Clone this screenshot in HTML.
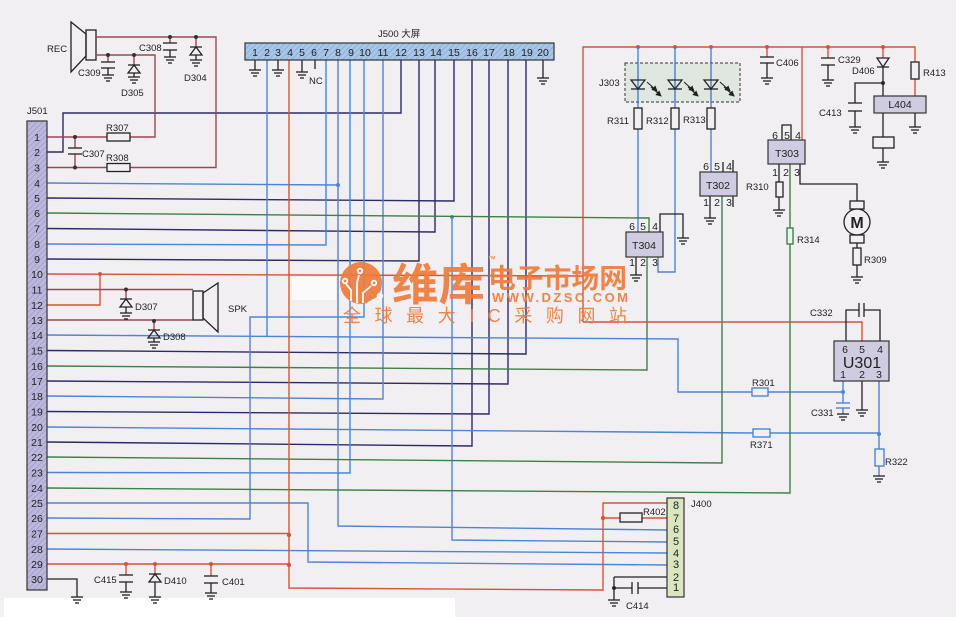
<!DOCTYPE html>
<html><head><meta charset="utf-8"><style>
html,body{margin:0;padding:0;background:#f2eff2;}
svg{display:block;}
text{font-family:"Liberation Sans","Noto Sans CJK SC",sans-serif;fill:#222;}
</style></head><body>
<svg width="956" height="617" viewBox="0 0 956 617" xmlns="http://www.w3.org/2000/svg">
<defs>
<pattern id="h1" width="4" height="4" patternUnits="userSpaceOnUse" patternTransform="rotate(45)"><rect width="4" height="4" fill="#bcb8dc"/><line x1="0" y1="0" x2="0" y2="4" stroke="#9692c2" stroke-width="1.2"/></pattern>
<pattern id="h2" width="4" height="4" patternUnits="userSpaceOnUse" patternTransform="rotate(45)"><rect width="4" height="4" fill="#a8c6e8"/><line x1="0" y1="0" x2="0" y2="4" stroke="#7ea4d0" stroke-width="1.2"/></pattern>
<marker id="ah" markerWidth="6" markerHeight="6" refX="5" refY="3" orient="auto" markerUnits="userSpaceOnUse"><path d="M0,0 L6,3 L0,6 Z" fill="#222"/></marker>
<g id="gnd" stroke="#222" stroke-width="1.3"><line x1="-6" y1="0" x2="6" y2="0"/><line x1="-4" y1="3" x2="4" y2="3"/><line x1="-2" y1="6" x2="2" y2="6"/></g>
</defs>
<rect width="956" height="617" fill="#f2eff2"/>
<rect x="4" y="598" width="451" height="19" fill="#ffffff"/>
<rect x="292" y="277" width="44" height="23" fill="#fbfafb"/>

<!-- NAVY -->
<g fill="none" stroke="#2d2a68" stroke-width="1.4">
<path d="M47,152 H63 V113 H401 V60"/>
<path d="M47,259 L419,261 V60"/>
<path d="M47,228.5 L435,232 V60"/>
<path d="M47,198 L454,201 V60"/>
<path d="M47,442 L472,446 V60"/>
<path d="M47,411.5 L489,414 V60"/>
<path d="M47,381 L508,384 V60"/>
<path d="M47,350.5 L526,354 V60"/>
</g>

<!-- BLUE -->
<g fill="none" stroke="#4d85d4" stroke-width="1.4">
<path d="M267,60 V336"/>
<path d="M47,335 L678,339 V392 H752"/>
<path d="M768,392 H843"/>
<path d="M326,60 V245 L47,244"/>
<path d="M338,60 V526 L667,530"/>
<path d="M47,183 L338,185"/>
<path d="M350,60 V473 L47,472.5"/>
<path d="M364,60 V317 H250 V519 L47,518"/>
<path d="M383,60 V399 L47,396"/>
<path d="M452,217 V540 L667,542"/>
<path d="M47,503 H308 V562 L667,565"/>
<path d="M47,549 L667,553"/>
<path d="M47,427 L753,433"/>
<path d="M770,433 H879"/>
<path d="M638,47 V108 M638,129 V232"/>
<path d="M675,47 V108 M675,129 V272 H658 V257"/>
<path d="M711,47 V108 M711,129 V172"/>
<path d="M843,381 V403 M843,408 V414"/>
<path d="M879,381 V449 M879,466 V476"/>
<rect x="752" y="388" width="16" height="8"/>
<rect x="753" y="429" width="17" height="8"/>
<rect x="875" y="449" width="9" height="17"/>
<line x1="836" y1="403" x2="850" y2="403"/><line x1="836" y1="408" x2="850" y2="408"/>
</g>
<g fill="#4d85d4"><circle cx="338" cy="185" r="2"/><circle cx="452" cy="217" r="2"/><circle cx="638" cy="47" r="2"/><circle cx="675" cy="47" r="2"/><circle cx="711" cy="47" r="2"/><circle cx="843" cy="392" r="2"/><circle cx="879" cy="434" r="2"/></g>

<!-- GREEN -->
<g fill="none" stroke="#3f8048" stroke-width="1.4">
<path d="M47,213 L649,218 V232"/>
<path d="M47,366 L647,370 V257"/>
<path d="M47,457 L722,463 V196"/>
<path d="M47,488 L790,493 V244 M790,228 V164"/>
<rect x="787" y="228" width="6" height="16"/>
</g>

<!-- RED -->
<g fill="none" stroke="#d5533a" stroke-width="1.4">
<path d="M47,274 L583,276"/>
<path d="M583,322 V47 H915 V62 M915,79 V96"/>
<path d="M583,322 H862 V341"/>
<path d="M802,47 V140"/>
<path d="M767,47 V57 M828,47 V58 M883,47 V58"/>
<path d="M47,305 H100 V274"/>
<path d="M289,60 V588 L603,590 V503 H667"/>
<path d="M603,518 H620 M642,518 H667"/>
<path d="M47,533.5 H289 M47,564 H289"/>
<path d="M126,564 V575 M155,564 V574 M211,564 V576"/>
<rect x="620" y="513" width="22" height="9" stroke="#333"/>
<rect x="911" y="62" width="8" height="17" stroke="#333"/>
</g>
<g fill="#d5533a"><circle cx="100" cy="274" r="2"/><circle cx="289" cy="535" r="2.2"/><circle cx="289" cy="565" r="2.2"/><circle cx="126" cy="564" r="2"/><circle cx="155" cy="564" r="2"/><circle cx="211" cy="564" r="2"/><circle cx="603" cy="518" r="2.2"/><circle cx="767" cy="47" r="2"/><circle cx="828" cy="47" r="2"/><circle cx="883" cy="47" r="2"/></g>

<!-- MAROON -->
<g fill="none" stroke="#9a4755" stroke-width="1.4">
<path d="M47,137 H107 M130,137 H155 V55 H97"/>
<path d="M47,167.5 H107 M130,167.5 H216 V37 H97"/>
<path d="M75,137 V148 M75,154 V167.5"/>
<path d="M47,289.5 H193 M47,320 H193"/>
<path d="M108,55 V62 M134,55 V65 M170,37 V43 M196,37 V47 M126,289.5 V299 M154,320 V330"/>
</g>
<g fill="#333"><circle cx="75" cy="137" r="2"/><circle cx="75" cy="167.5" r="2"/><circle cx="108" cy="55" r="2"/><circle cx="134" cy="55" r="2"/><circle cx="170" cy="37" r="2"/><circle cx="196" cy="37" r="2"/><circle cx="126" cy="289.5" r="2"/><circle cx="154" cy="321" r="2"/><circle cx="883" cy="83" r="2"/><circle cx="614" cy="588" r="2"/></g>

<!-- BLACK components -->
<g fill="none" stroke="#222" stroke-width="1.3">
<rect x="107" y="133" width="23" height="8"/>
<rect x="107" y="163.5" width="23" height="8"/>
<line x1="68" y1="148" x2="82" y2="148"/><line x1="68" y1="154" x2="82" y2="154"/>
<rect x="86" y="30" width="10" height="30"/>
<polygon points="86,34 71,22 71,72 86,56"/>
<line x1="101" y1="62" x2="115" y2="62"/><line x1="101" y1="68" x2="115" y2="68"/><line x1="108" y1="68" x2="108" y2="75"/>
<line x1="128" y1="65" x2="140" y2="65"/><polygon points="134,65 128,73 140,73"/><line x1="134" y1="73" x2="134" y2="77"/>
<line x1="163" y1="43" x2="177" y2="43"/><line x1="163" y1="50" x2="177" y2="50"/><line x1="170" y1="50" x2="170" y2="57"/>
<line x1="190" y1="47" x2="202" y2="47"/><polygon points="196,47 190,55 202,55"/><line x1="196" y1="55" x2="196" y2="60"/>
<rect x="193" y="291" width="10" height="29"/>
<polygon points="203,293 218,283 218,332 203,318"/>
<line x1="120" y1="299" x2="132" y2="299"/><polygon points="126,299 120,307 132,307"/><line x1="126" y1="307" x2="126" y2="313"/>
<line x1="148" y1="330" x2="160" y2="330"/><polygon points="154,330 148,338 160,338"/><line x1="154" y1="338" x2="154" y2="342"/>
<line x1="119" y1="575" x2="133" y2="575"/><line x1="119" y1="582" x2="133" y2="582"/><line x1="126" y1="582" x2="126" y2="592"/>
<line x1="149" y1="574" x2="161" y2="574"/><polygon points="155,574 149,582 161,582"/><line x1="155" y1="582" x2="155" y2="597"/>
<line x1="204" y1="576" x2="218" y2="576"/><line x1="204" y1="583" x2="218" y2="583"/><line x1="211" y1="583" x2="211" y2="593"/>
<path d="M47,579 H77 V597"/>
<path d="M255,60 V70 M278,60 V70 M302,60 V72 M315,60 V69 M543,60 V78"/>
<rect x="634" y="108" width="8" height="21"/>
<rect x="671" y="108" width="8" height="21"/>
<rect x="707" y="108" width="8" height="21"/>
<path d="M660,232 V214 H683 V238"/>
<path d="M636,257 V275"/>
<path d="M723,162 V172 M733,160 V172 M710,196 V218 M733,196 V207"/>
<path d="M782,140 V125 H791 V140"/>
<path d="M779,164 V182 M779,197 V210"/>
<rect x="776" y="182" width="7" height="15"/>
<path d="M800,164 V184 H857 V201"/>
<rect x="850" y="201" width="14" height="8"/>
<circle cx="857" cy="222" r="13" fill="#f2eff2"/>
<rect x="850" y="235" width="14" height="8"/>
<path d="M857,243 V248 M857,265 V277"/>
<rect x="853" y="248" width="8" height="17"/>
<line x1="760" y1="57" x2="774" y2="57"/><line x1="760" y1="63" x2="774" y2="63"/><line x1="767" y1="63" x2="767" y2="78"/>
<line x1="821" y1="58" x2="835" y2="58"/><line x1="821" y1="65" x2="835" y2="65"/><line x1="828" y1="65" x2="828" y2="80"/>
<polygon points="877,58 889,58 883,67"/><line x1="877" y1="67" x2="889" y2="67"/>
<path d="M883,67 V96 M883,83 H855 V103 M855,111 V127"/>
<line x1="848" y1="103" x2="862" y2="103"/><line x1="848" y1="111" x2="862" y2="111"/>
<path d="M883,113 V137 M883,148 V162 M915,113 V127"/>
<rect x="873" y="137" width="21" height="11"/>
<path d="M846,341 V310 H859 M864,310 H880 V341"/>
<line x1="859" y1="303" x2="859" y2="317"/><line x1="864" y1="303" x2="864" y2="317"/>
<path d="M862,381 V410"/>
<path d="M614,577 H667 M614,577 V600 M614,588 H632 M638,588 H667"/>
<line x1="632" y1="582" x2="632" y2="594"/><line x1="638" y1="582" x2="638" y2="594"/>
</g>
<rect x="625" y="63" width="115" height="39" fill="#d9e4d9" fill-opacity="0.7" stroke="#333" stroke-width="1" stroke-dasharray="3,2"/>
<g stroke="#4d85d4" stroke-width="1.4"><line x1="638" y1="63" x2="638" y2="102"/><line x1="675" y1="63" x2="675" y2="102"/><line x1="711" y1="63" x2="711" y2="102"/></g>
<g fill="none" stroke="#222" stroke-width="1.3">
<polygon points="631,80 645,80 638,89"/><line x1="631" y1="89" x2="645" y2="89"/>
<polygon points="668,80 682,80 675,89"/><line x1="668" y1="89" x2="682" y2="89"/>
<polygon points="704,80 718,80 711,89"/><line x1="704" y1="89" x2="718" y2="89"/>
</g>
<g fill="none" stroke="#222" stroke-width="1.1" marker-end="url(#ah)">
<path d="M647,82 L657,91"/><path d="M651,87 L661,96"/>
<path d="M684,82 L694,91"/><path d="M688,87 L698,96"/>
<path d="M720,82 L730,91"/><path d="M724,87 L734,96"/>
</g>

<!-- grounds -->
<use href="#gnd" x="108" y="75"/><use href="#gnd" x="134" y="77"/><use href="#gnd" x="170" y="57"/><use href="#gnd" x="196" y="60"/>
<use href="#gnd" x="126" y="313"/><use href="#gnd" x="154" y="342"/>
<use href="#gnd" x="126" y="592"/><use href="#gnd" x="155" y="597"/><use href="#gnd" x="211" y="593"/><use href="#gnd" x="77" y="597"/>
<use href="#gnd" x="255" y="70"/><use href="#gnd" x="278" y="70"/><use href="#gnd" x="302" y="72"/><use href="#gnd" x="543" y="78"/>
<use href="#gnd" x="683" y="238"/><use href="#gnd" x="636" y="275"/><use href="#gnd" x="710" y="218"/><use href="#gnd" x="779" y="210"/>
<use href="#gnd" x="767" y="78"/><use href="#gnd" x="828" y="80"/><use href="#gnd" x="855" y="127"/><use href="#gnd" x="883" y="162"/><use href="#gnd" x="915" y="127"/>
<use href="#gnd" x="857" y="277"/><use href="#gnd" x="843" y="414"/><use href="#gnd" x="862" y="410"/><use href="#gnd" x="879" y="476"/><use href="#gnd" x="614" y="600"/>

<!-- boxes -->
<rect x="27" y="121" width="20" height="469" fill="url(#h1)" stroke="#333" stroke-width="1.2"/>
<rect x="245" y="43" width="309" height="17" fill="url(#h2)" stroke="#333" stroke-width="1.2"/>
<rect x="626" y="232" width="37" height="25" fill="#cfcbe0" stroke="#333" stroke-width="1.2"/>
<rect x="700" y="172" width="37" height="24" fill="#cfcbe0" stroke="#333" stroke-width="1.2"/>
<rect x="768" y="140" width="37" height="24" fill="#cfcbe0" stroke="#333" stroke-width="1.2"/>
<rect x="874" y="96" width="52" height="17" fill="#cfcbe0" stroke="#333" stroke-width="1.2"/>
<rect x="834" y="341" width="55" height="40" fill="#cfcbe0" stroke="#333" stroke-width="1.2"/>
<rect x="667" y="498" width="17" height="99" fill="#dae6c0" stroke="#333" stroke-width="1.2"/>

<!-- J501 numbers -->
<g font-size="10.5" text-anchor="middle">
<text x="37" y="141">1</text><text x="37" y="156">2</text><text x="37" y="171.5">3</text><text x="37" y="187">4</text><text x="37" y="202">5</text><text x="37" y="217">6</text><text x="37" y="232.5">7</text><text x="37" y="248">8</text><text x="37" y="263">9</text><text x="37" y="278">10</text>
<text x="37" y="293.5">11</text><text x="37" y="309">12</text><text x="37" y="324">13</text><text x="37" y="339">14</text><text x="37" y="354.5">15</text><text x="37" y="370">16</text><text x="37" y="385">17</text><text x="37" y="400">18</text><text x="37" y="415.5">19</text><text x="37" y="431">20</text>
<text x="37" y="446">21</text><text x="37" y="461">22</text><text x="37" y="476.5">23</text><text x="37" y="492">24</text><text x="37" y="507">25</text><text x="37" y="522">26</text><text x="37" y="537.5">27</text><text x="37" y="553">28</text><text x="37" y="568">29</text><text x="37" y="583">30</text>
</g>
<!-- J500 numbers -->
<g font-size="10.5" text-anchor="middle">
<text x="255" y="56">1</text><text x="267" y="56">2</text><text x="278" y="56">3</text><text x="290" y="56">4</text><text x="302" y="56">5</text><text x="314" y="56">6</text><text x="326" y="56">7</text><text x="338" y="56">8</text><text x="351" y="56">9</text><text x="365" y="56">10</text>
<text x="383" y="56">11</text><text x="401" y="56">12</text><text x="419" y="56">13</text><text x="436" y="56">14</text><text x="454" y="56">15</text><text x="472" y="56">16</text><text x="489" y="56">17</text><text x="509" y="56">18</text><text x="527" y="56">19</text><text x="543" y="56">20</text>
</g>
<!-- J400 numbers -->
<g font-size="11" text-anchor="middle">
<text x="676" y="509">8</text><text x="676" y="522">7</text><text x="676" y="533">6</text><text x="676" y="545">5</text><text x="676" y="557">4</text><text x="676" y="568">3</text><text x="676" y="581">2</text><text x="676" y="591">1</text>
</g>

<!-- labels -->
<g font-size="9.5">
<text x="27" y="114">J501</text>
<text x="47" y="52">REC</text>
<text x="78" y="76">C309</text>
<text x="121" y="96">D305</text>
<text x="139" y="51">C308</text>
<text x="184" y="81">D304</text>
<text x="106" y="131">R307</text>
<text x="82" y="157">C307</text>
<text x="106" y="161">R308</text>
<text x="228" y="312">SPK</text>
<text x="135" y="310">D307</text>
<text x="163" y="340">D308</text>
<text x="94" y="583">C415</text>
<text x="164" y="584">D410</text>
<text x="222" y="585">C401</text>
<text x="378" y="37">J500 大屏</text>
<text x="309" y="84">NC</text>
<text x="599" y="86">J303</text>
<text x="607" y="124">R311</text>
<text x="646" y="124">R312</text>
<text x="683" y="123">R313</text>
<text x="776" y="66">C406</text>
<text x="838" y="63">C329</text>
<text x="852" y="74">D406</text>
<text x="923" y="76">R413</text>
<text x="819" y="116">C413</text>
<text x="746" y="190">R310</text>
<text x="797" y="243">R314</text>
<text x="864" y="263">R309</text>
<text x="810" y="316">C332</text>
<text x="752" y="386">R301</text>
<text x="811" y="416">C331</text>
<text x="750" y="448">R371</text>
<text x="885" y="465">R322</text>
<text x="691" y="507">J400</text>
<text x="643" y="515">R402</text>
<text x="626" y="609">C414</text>
</g>
<g font-size="10.5" text-anchor="middle">
<text x="900" y="108">L404</text>
<text x="787" y="157">T303</text>
<text x="718" y="189">T302</text>
<text x="644" y="249">T304</text>
<text x="775" y="139">6</text><text x="787" y="139">5</text><text x="798" y="139">4</text>
<text x="775" y="176">1</text><text x="786" y="176">2</text><text x="797" y="176">3</text>
<text x="706" y="170">6</text><text x="717" y="170">5</text><text x="729" y="170">4</text>
<text x="706" y="206">1</text><text x="717" y="206">2</text><text x="729" y="206">3</text>
<text x="632" y="230">6</text><text x="643" y="230">5</text><text x="655" y="230">4</text>
<text x="632" y="266">1</text><text x="643" y="266">2</text><text x="655" y="266">3</text>
<text x="845" y="353">6</text><text x="862" y="353">5</text><text x="880" y="353">4</text>
<text x="843" y="378">1</text><text x="862" y="378">2</text><text x="879" y="378">3</text>
</g>
<text x="862" y="368" font-size="16" text-anchor="middle">U301</text>
<text x="857" y="228" font-size="16" font-weight="bold" text-anchor="middle">M</text>

<!-- watermark -->
<g opacity="0.92">
<circle cx="361" cy="283" r="21" fill="#ee7b3c"/>
<g fill="none" stroke="#ffffff" stroke-width="1.8">
<path d="M351,301 V290 L346,284"/><circle cx="345" cy="281" r="2.3"/>
<path d="M357,303 V283 L359,275"/><circle cx="360" cy="271" r="2.3"/>
<path d="M363,303 V293 L371,286"/><circle cx="374" cy="283" r="2.3"/>
<path d="M368,303 L377,298"/><circle cx="380" cy="296" r="2.3"/>
</g>
<text x="392" y="300" font-size="44" font-weight="bold" style="fill:#ee7b3c;font-family:'Noto Sans CJK SC',sans-serif" textLength="93" lengthAdjust="spacingAndGlyphs">维库</text>
<text x="487" y="262" font-size="9" style="fill:#ee7b3c">™</text>
<text x="488" y="288" font-size="27" font-weight="bold" style="fill:#ee7b3c;font-family:'Noto Sans CJK SC',sans-serif" textLength="139" lengthAdjust="spacingAndGlyphs">电子市场网</text>
<text x="492" y="302" font-size="13" font-weight="bold" style="fill:#ee7b3c" textLength="136" lengthAdjust="spacing">WWW.DZSC.COM</text>
<text x="343" y="322" font-size="18" style="fill:#ee7b3c;font-family:'Liberation Sans','Noto Sans CJK SC',sans-serif" textLength="284" lengthAdjust="spacing">全球最大IC采购网站</text>
</g>
</svg>
</body></html>
